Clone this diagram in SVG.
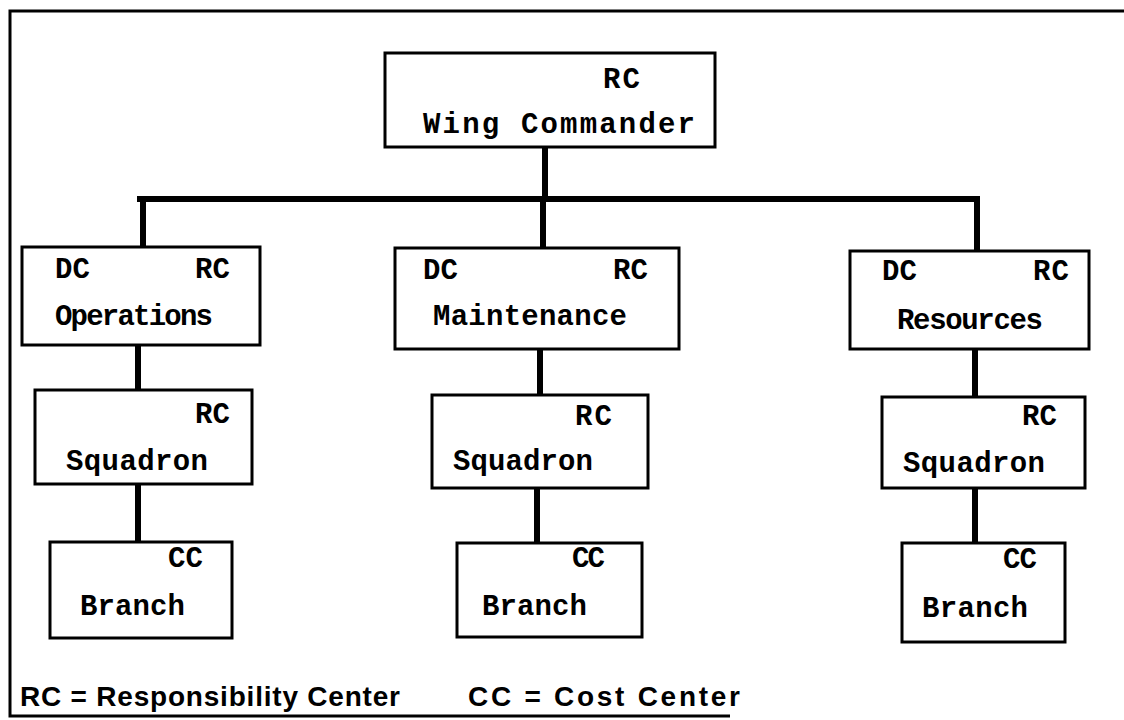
<svg xmlns="http://www.w3.org/2000/svg" width="1124" height="720" viewBox="0 0 1124 720">
<style>
.box{fill:#fff;stroke:#000;stroke-width:3}
.t{font-family:"Liberation Mono",monospace;font-weight:bold;font-size:29px;fill:#000}
.lg{font-family:"Liberation Sans",sans-serif;font-weight:bold;font-size:28px;fill:#000}
.c{fill:none;stroke:#000;stroke-width:6;stroke-linecap:square}
.frame{fill:none;stroke:#000;stroke-width:3}
</style>
<rect width="1124" height="720" fill="#fff"/>
<path class="frame" d="M1124 11 H10 V716 H730"/>
<g id="connectors">
<path class="c" d="M545 147 V199"/>
<path class="c" d="M140 199 H977"/>
<path class="c" d="M143 199 V247"/>
<path class="c" d="M543 199 V248"/>
<path class="c" d="M977 199 V250"/>
<path class="c" d="M138 345 V390"/>
<path class="c" d="M138 484 V542"/>
<path class="c" d="M540 349 V395"/>
<path class="c" d="M537 488 V543"/>
<path class="c" d="M975 349 V397"/>
<path class="c" d="M975 488 V543"/>
</g>
<g id="wing">
<rect class="box" x="385" y="53" width="330" height="94"/>
<text class="t" x="603" y="88" textLength="37">RC</text>
<text class="t" x="423" y="133" textLength="272">Wing Commander</text>
</g>
<g id="operations">
<rect class="box" x="22" y="247" width="238" height="98"/>
<text class="t" x="55" y="278" textLength="35">DC</text>
<text class="t" x="195" y="278" textLength="35">RC</text>
<text class="t" x="55" y="325" textLength="158">Operations</text>
</g>
<g id="maintenance">
<rect class="box" x="395" y="248" width="284" height="101"/>
<text class="t" x="423" y="279" textLength="35">DC</text>
<text class="t" x="613" y="279" textLength="35">RC</text>
<text class="t" x="433" y="325" textLength="194">Maintenance</text>
</g>
<g id="resources">
<rect class="box" x="850" y="251" width="239" height="98"/>
<text class="t" x="882" y="280" textLength="35">DC</text>
<text class="t" x="1033" y="280" textLength="36">RC</text>
<text class="t" x="897" y="329" textLength="146">Resources</text>
</g>
<g id="squadron1">
<rect class="box" x="35" y="390" width="217" height="94"/>
<text class="t" x="195" y="423" textLength="35">RC</text>
<text class="t" x="66" y="470" textLength="142">Squadron</text>
</g>
<g id="squadron2">
<rect class="box" x="432" y="395" width="216" height="93"/>
<text class="t" x="575" y="425" textLength="37">RC</text>
<text class="t" x="453" y="470" textLength="140">Squadron</text>
</g>
<g id="squadron3">
<rect class="box" x="882" y="397" width="203" height="91"/>
<text class="t" x="1022" y="425" textLength="35">RC</text>
<text class="t" x="903" y="472" textLength="142">Squadron</text>
</g>
<g id="branch1">
<rect class="box" x="50" y="542" width="182" height="96"/>
<text class="t" x="168" y="567" textLength="35">CC</text>
<text class="t" x="80" y="615" textLength="105">Branch</text>
</g>
<g id="branch2">
<rect class="box" x="457" y="543" width="185" height="94"/>
<text class="t" x="572" y="567" textLength="33">CC</text>
<text class="t" x="482" y="615" textLength="105">Branch</text>
</g>
<g id="branch3">
<rect class="box" x="902" y="543" width="163" height="99"/>
<text class="t" x="1003" y="568" textLength="34">CC</text>
<text class="t" x="922" y="617" textLength="106">Branch</text>
</g>
<g id="legend">
<text class="lg" x="20" y="706" textLength="380">RC = Responsibility Center</text>
<text class="lg" x="468" y="706" textLength="272">CC = Cost Center</text>
</g>
</svg>
